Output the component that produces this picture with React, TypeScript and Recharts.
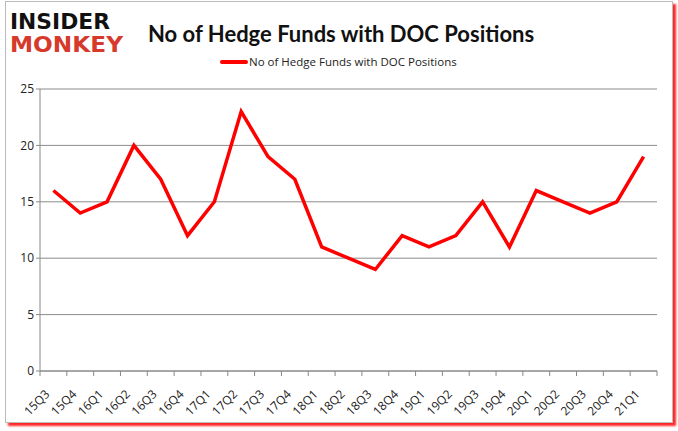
import React from "react";
import { LineChart, Line, XAxis, YAxis, CartesianGrid } from "recharts";

const quarters = [
  "15Q3", "15Q4", "16Q1", "16Q2", "16Q3", "16Q4", "17Q1", "17Q2", "17Q3", "17Q4",
  "18Q1", "18Q2", "18Q3", "18Q4", "19Q1", "19Q2", "19Q3", "19Q4", "20Q1", "20Q2",
  "20Q3", "20Q4", "21Q1",
];
const funds = [16, 14, 15, 20, 17, 12, 15, 23, 19, 17, 11, 10, 9, 12, 11, 12, 15, 11, 16, 15, 14, 15, 19];
const yTicks = [0, 5, 10, 15, 20, 25];

const seriesName = "No of Hedge Funds with DOC Positions";
const data = quarters.map((q, i) => ({ q, v: funds[i] }));

const W = 678;
const H = 431;
const PLOT_LEFT = 40;
const PLOT_RIGHT = 657;
const BAND = (PLOT_RIGHT - PLOT_LEFT) / quarters.length;

const font = "'Open Sans', 'DejaVu Sans', sans-serif";

// excel-ish tick: mark at the band boundary, label rotated under the center
function QuarterTick(props: any) {
  const { x, y, payload } = props;
  const bx = x + BAND / 2;
  const lx = x - 3;
  const ly = y + 16;
  return (
    <g>
      <line x1={bx} y1={y - 8} x2={bx} y2={y - 3} stroke="#888" />
      {payload.index === 0 && <line x1={bx - BAND} y1={y - 8} x2={bx - BAND} y2={y - 3} stroke="#888" />}
      <text
        x={lx}
        y={ly}
        textAnchor="end"
        fontSize={12}
        fontFamily={font}
        fill="#222"
        transform={`rotate(-45, ${lx}, ${ly})`}
      >
        {payload.value}
      </text>
    </g>
  );
}

export default function App() {
  return (
    <div style={{ position: "absolute", left: 0, top: 0, width: W, height: H, background: "#fff" }}>
      <div
        style={{
          position: "absolute",
          left: 5,
          top: 1,
          width: 666,
          height: 420,
          border: "1px solid #bbb",
          boxShadow: "3px 3px 2px rgba(255,0,0,0.85)",
          background: "#fff",
        }}
      />
      <svg width={130} height={60} style={{ position: "absolute", left: 0, top: 0 }}>
        <text x={10} y={29} fontFamily="'DejaVu Sans', sans-serif" fontWeight={900} fontSize={22} textLength={100} lengthAdjust="spacingAndGlyphs" fill="#111">
          INSIDER
        </text>
        <text x={10} y={52} fontFamily="'DejaVu Sans', sans-serif" fontWeight={900} fontSize={22} textLength={113} lengthAdjust="spacingAndGlyphs" fill="#d63a2a">
          MONKEY
        </text>
      </svg>
      <div
        style={{
          position: "absolute",
          left: 148,
          top: 20,
          fontFamily: "Lato, 'Open Sans', sans-serif",
          fontWeight: 700,
          fontSize: 22,
          color: "#111",
          whiteSpace: "nowrap",
        }}
      >
        No of Hedge Funds with DOC Positions
      </div>
      <div style={{ position: "absolute", left: 220, top: 54, display: "flex", alignItems: "center" }}>
        <span style={{ display: "inline-block", width: 28, height: 4, background: "#ff0000", borderRadius: 2, marginRight: 1 }} />
        <span style={{ fontFamily: font, fontSize: 11.5, color: "#222", whiteSpace: "nowrap" }}>{seriesName}</span>
      </div>
      <div style={{ position: "absolute", left: 0, top: 0 }}>
        <LineChart width={W} height={H} data={data} margin={{ top: 89, right: W - PLOT_RIGHT, left: 0, bottom: 8 }}>
          <CartesianGrid vertical={false} stroke="#8c8c8c" />
          <XAxis
            dataKey="q"
            scale="band"
            tick={<QuarterTick />}
            tickLine={false}
            axisLine={{ stroke: "#888" }}
            interval={0}
            height={52}
          />
          <YAxis
            domain={[0, 25]}
            ticks={yTicks}
            width={PLOT_LEFT}
            axisLine={{ stroke: "#888" }}
            tickLine={{ stroke: "#888" }}
            tickSize={4}
            tick={{ fontSize: 12, fill: "#222", fontFamily: font }}
          />
          <Line
            type="linear"
            dataKey="v"
            name={seriesName}
            stroke="#ff0000"
            strokeWidth={3.5}
            dot={false}
            isAnimationActive={false}
          />
        </LineChart>
      </div>
    </div>
  );
}
